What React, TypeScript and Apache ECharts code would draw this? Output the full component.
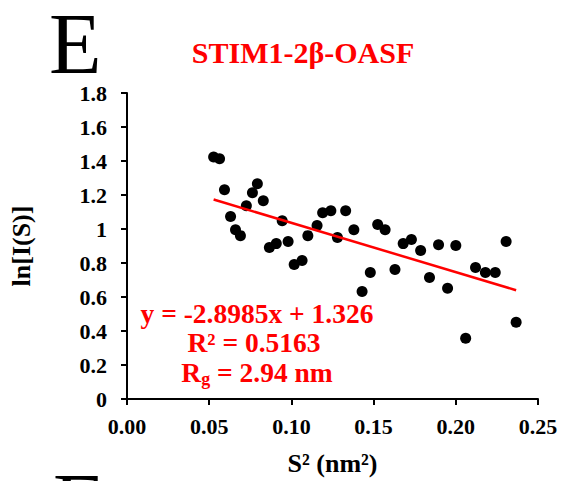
import React, { useEffect, useRef } from "react";
import * as echarts from "echarts";

const xValues = [
  0.0527, 0.0563, 0.0593, 0.063, 0.066, 0.069, 0.0726, 0.0763, 0.0793, 0.0829,
  0.0866, 0.0908, 0.0944, 0.098, 0.1017, 0.1065, 0.11, 0.1156, 0.119, 0.124,
  0.128, 0.133, 0.138, 0.143, 0.148, 0.1525, 0.157, 0.163, 0.168, 0.173,
  0.1786, 0.184, 0.1895, 0.195, 0.2, 0.206, 0.212, 0.218, 0.224, 0.2306, 0.2367,
];
const yValues = [
  1.424, 1.413, 1.231, 1.073, 0.996, 0.961, 1.137, 1.213, 1.266, 1.166,
  0.891, 0.914, 1.049, 0.926, 0.791, 0.815, 0.961, 1.02, 1.096, 1.108,
  0.95, 1.108, 0.996, 0.633, 0.744, 1.026, 0.996, 0.762, 0.914, 0.938,
  0.873, 0.715, 0.908, 0.651, 0.903, 0.358, 0.774, 0.744, 0.744, 0.926, 0.451,
];
const trendSlope = -2.8985;
const trendIntercept = 1.326;
const trendX = [0.0527, 0.2367];
const xTicks = ["0.00", "0.05", "0.10", "0.15", "0.20", "0.25"];

const SERIF = "'Times New Roman', 'Liberation Serif', serif";
const RED = "#ff0000";

export default function App() {
  const ref = useRef<HTMLDivElement>(null);
  useEffect(() => {
    document.body.style.margin = "0";
    if (!ref.current) return;
    const chart = echarts.init(ref.current, undefined, { renderer: "svg" });
    const points = xValues.map((x, i) => [x, yValues[i]]);
    const trend = trendX.map((x) => [x, trendSlope * x + trendIntercept]);
    chart.setOption({
      animation: false,
      backgroundColor: "#ffffff",
      grid: { left: 125, right: 25, top: 93, bottom: 81, containLabel: false },
      xAxis: {
        type: "value",
        min: 0,
        max: 0.25,
        interval: 0.05,
        name: "S² (nm²)",
        nameLocation: "middle",
        nameGap: 51,
        nameTextStyle: { fontFamily: SERIF, fontWeight: "bold", fontSize: 26, color: "#000" },
        axisLine: { show: true, lineStyle: { color: "#000", width: 2 } },
        axisTick: { show: true, inside: false, length: 6, lineStyle: { color: "#000", width: 2 } },
        axisLabel: {
          margin: 16,
          fontFamily: SERIF,
          fontWeight: "bold",
          fontSize: 22,
          color: "#000",
          formatter: (v: number) => xTicks[Math.round(v / 0.05)] ?? v.toFixed(2),
        },
        splitLine: { show: false },
      },
      yAxis: {
        type: "value",
        min: 0,
        max: 1.8,
        interval: 0.2,
        name: "ln[I(S)]",
        nameLocation: "middle",
        nameGap: 93,
        nameTextStyle: { fontFamily: SERIF, fontWeight: "bold", fontSize: 26, color: "#000" },
        axisLine: { show: true, lineStyle: { color: "#000", width: 2 } },
        axisTick: { show: true, inside: false, length: 6, lineStyle: { color: "#000", width: 2 } },
        axisLabel: {
          margin: 20,
          fontFamily: SERIF,
          fontWeight: "bold",
          fontSize: 22,
          color: "#000",
          formatter: (v: number) => String(parseFloat(v.toFixed(1))),
        },
        splitLine: { show: false },
      },
      series: [
        {
          type: "scatter",
          data: points,
          symbol: "circle",
          symbolSize: 11,
          itemStyle: { color: "#000", opacity: 1 },
          z: 2,
        },
        {
          type: "line",
          data: trend,
          symbol: "none",
          lineStyle: { color: RED, width: 2.5 },
          z: 3,
        },
      ],
      graphic: [
        {
          type: "text",
          x: 49,
          y: 43.5,
          style: {
            text: "E",
            fontFamily: SERIF,
            fontSize: 86,
            lineHeight: 60,
            fill: "#000",
            align: "left",
            verticalAlign: "middle",
          },
          silent: true,
        },
        {
          type: "text",
          x: 303,
          y: 52,
          style: {
            text: "STIM1-2β-OASF",
            fontFamily: SERIF,
            fontWeight: "bold",
            fontSize: 30,
            fill: RED,
            align: "center",
            verticalAlign: "middle",
          },
        },
        {
          type: "text",
          x: 257,
          y: 313,
          style: {
            text: "y = -2.8985x + 1.326",
            fontFamily: SERIF,
            fontWeight: "bold",
            fontSize: 27.5,
            fill: RED,
            align: "center",
            verticalAlign: "middle",
          },
        },
        {
          type: "text",
          x: 254,
          y: 342,
          style: {
            text: "R² = 0.5163",
            fontFamily: SERIF,
            fontWeight: "bold",
            fontSize: 27.5,
            fill: RED,
            align: "center",
            verticalAlign: "middle",
          },
        },
        {
          type: "text",
          x: 257,
          y: 372,
          style: {
            text: "{a|R}{s|g}{a| = 2.94 nm}",
            align: "center",
            verticalAlign: "middle",
            fill: RED,
            rich: {
              a: { fontFamily: SERIF, fontWeight: "bold", fontSize: 27.5, fill: RED, verticalAlign: "middle" },
              s: { fontFamily: SERIF, fontWeight: "bold", fontSize: 18, fill: RED, padding: [14, 0, 0, 0] },
            },
          },
        },
        {
          type: "text",
          x: 53,
          y: 503.5,
          style: {
            text: "F",
            fontFamily: SERIF,
            fontSize: 86,
            lineHeight: 60,
            fill: "#000",
            align: "left",
            verticalAlign: "middle",
          },
          silent: true,
        },
      ],
    });
    return () => chart.dispose();
  }, []);
  return <div ref={ref} style={{ width: 563, height: 481 }} />;
}
